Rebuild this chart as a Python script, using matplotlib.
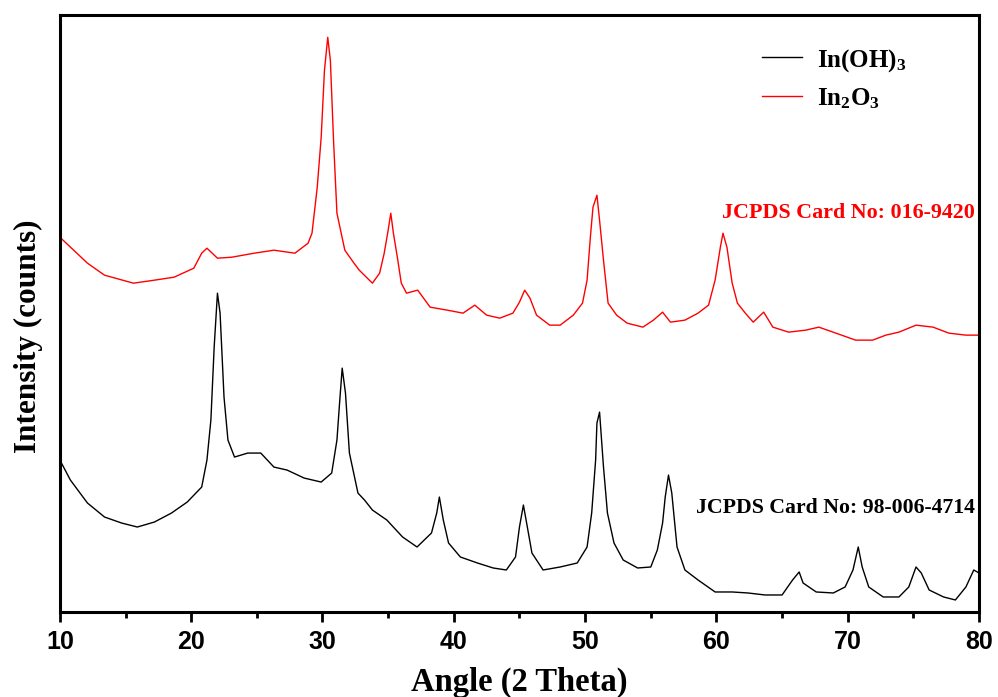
import matplotlib.pyplot as plt
import numpy as np

# In(OH)3 pattern (arbitrary counts)
ohx = [10.0, 10.8, 12.1, 13.4, 14.7, 15.9, 17.2, 18.5, 19.7, 20.8, 21.2, 21.5, 21.75, 22.0,
       22.2, 22.5, 22.8, 23.3, 24.3, 25.3, 26.3, 27.3, 28.6, 29.9, 30.7, 31.1, 31.3, 31.5,
       31.75, 32.05, 32.7, 33.2, 33.8, 34.9, 36.1, 37.2, 38.3, 38.7, 38.9, 39.2, 39.6, 40.5,
       41.8, 43.0, 44.0, 44.7, 45.0, 45.3, 45.6, 45.95, 46.8, 48.1, 49.4, 50.15, 50.5, 50.8,
       50.9, 51.1, 51.4, 51.7, 52.2, 52.9, 54.0, 55.0, 55.5, 55.9, 56.1, 56.35, 56.6, 57.0,
       57.6, 58.6, 59.9, 61.2, 62.4, 63.7, 65.0, 65.8, 66.3, 66.6, 67.6, 68.9, 69.8, 70.4,
       70.8, 71.1, 71.6, 72.7, 73.9, 74.65, 75.2, 75.6, 76.2, 77.3, 78.2, 79.0, 79.6, 80.0]
ohy = [152, 132, 109, 95, 89, 85, 90, 99, 110, 125, 152, 192, 265, 319,
       299, 215, 172, 155, 159, 159, 145, 142, 134, 130, 139, 172, 209, 244,
       219, 159, 119, 112, 102, 92, 75, 65, 79, 99, 115, 92, 69, 55,
       49, 44, 42, 55, 85, 107, 85, 59, 42, 45, 49, 65, 99, 152,
       189, 200, 145, 99, 69, 52, 44, 45, 62, 89, 115, 137, 119, 65,
       42, 32, 20, 20, 19, 17, 17, 32, 40, 29, 20, 19, 25, 42,
       65, 45, 25, 15, 15, 25, 45, 39, 22, 15, 12, 25, 42, 39]

# In2O3 pattern
inx = [10.0, 12.1, 13.4, 15.6, 17.2, 18.7, 20.2, 20.8, 21.2, 22.0, 23.1, 24.8, 26.3, 27.9,
       28.9, 29.2, 29.6, 29.9, 30.15, 30.4, 30.6, 30.85, 31.1, 31.7, 32.4, 32.8, 33.8, 34.35,
       34.7, 35.0, 35.2, 35.4, 35.7, 36.0, 36.4, 37.25, 38.2, 39.5, 40.7, 41.6, 42.5, 43.5,
       44.5, 45.0, 45.4, 45.8, 46.3, 47.3, 48.1, 49.1, 49.8, 50.15, 50.4, 50.6, 50.9, 51.1,
       51.4, 51.75, 52.4, 53.2, 54.4, 55.2, 55.9, 56.5, 57.6, 58.6, 59.4, 59.9, 60.3, 60.5,
       60.8, 61.2, 61.6, 62.2, 62.8, 63.6, 64.3, 65.5, 66.8, 67.8, 69.1, 70.6, 71.9, 72.9,
       73.9, 75.2, 76.5, 77.7, 79.0, 80.0]
iny = [375, 349, 337, 329, 332, 335, 344, 359, 364, 354, 355, 359, 362, 359,
       369, 379, 425, 475, 542, 575, 552, 469, 399, 362, 349, 342, 329, 339,
       359, 382, 399, 379, 355, 329, 319, 322, 305, 302, 299, 307, 297, 294,
       299, 310, 322, 314, 297, 287, 287, 297, 309, 332, 375, 405, 417, 392,
       352, 309, 297, 289, 285, 292, 300, 290, 292, 299, 307, 332, 365, 379,
       365, 329, 309, 299, 290, 300, 285, 280, 282, 285, 279, 272, 272, 277,
       280, 287, 285, 279, 277, 277]

plt.rcParams['mathtext.default'] = 'regular'
serif = 'Liberation Serif'

fig = plt.figure(figsize=(9.98, 6.97), dpi=100)
ax = fig.add_axes([0.060, 0.122, 0.921, 0.856])

ax.plot(ohx, ohy, c='black', lw=1.0, label='In(OH)$_3$')
ax.plot(inx, iny, c='red', lw=1.0, label='In$_2$O$_3$')

ax.set_xlim(10, 80)
ax.set_ylim(0, 597)
ax.set_xticks(np.arange(10, 81, 10))
ax.set_xticks(np.arange(15, 80, 10), minor=True)
ax.set_yticks([])
for s in ax.spines.values():
    s.set_linewidth(2.2)
ax.tick_params(axis='x', which='major', direction='out', length=7, width=2, pad=6)
ax.tick_params(axis='x', which='minor', direction='out', length=4, width=2)
for lab in ax.get_xticklabels():
    lab.set_fontfamily('Liberation Sans')
    lab.set_fontweight('bold')
    lab.set_fontsize(18)

ax.set_xlabel('Angle (2 Theta)', family=serif, weight='bold', fontsize=23.5, labelpad=9)
ax.set_ylabel('Intensity (counts)', family=serif, weight='bold', fontsize=22.5)
ax.yaxis.set_label_coords(-0.018, 0.462)

ax.text(0.996, 0.668, 'JCPDS Card No: 016-9420', transform=ax.transAxes, ha='right',
        va='center', color='red', family=serif, weight='bold', fontsize=15.8)
ax.text(0.996, 0.174, 'JCPDS Card No: 98-006-4714', transform=ax.transAxes, ha='right',
        va='center', color='black', family=serif, weight='bold', fontsize=15.7)

ax.legend(loc='upper left', bbox_to_anchor=(0.739, 0.985), frameon=False,
          prop={'family': serif, 'weight': 'bold', 'size': 18},
          handlelength=1.6, handletextpad=0.6, labelspacing=0.5)

fig.savefig('out.png', dpi=100)
